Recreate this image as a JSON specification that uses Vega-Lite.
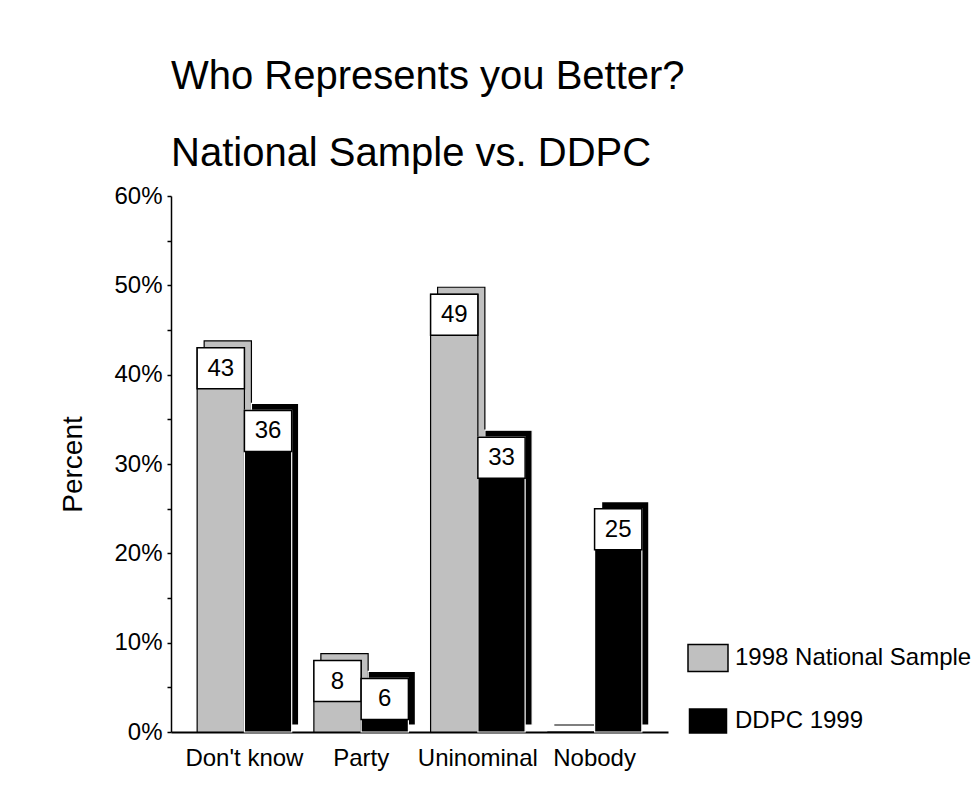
{
  "$schema": "https://vega.github.io/schema/vega-lite/v6.json",
  "width": 497,
  "height": 536,
  "autosize": {"type": "none"},
  "padding": {"left": 171, "top": 196, "right": 304, "bottom": 60},
  "background": "white",
  "config": {"font": "Liberation Sans", "view": {"stroke": null}},
  "title": {
    "text": ["Who Represents you Better?", "National Sample vs. DDPC"],
    "fontSize": 40,
    "fontWeight": "normal",
    "color": "black",
    "anchor": "start",
    "frame": "group",
    "lineHeight": 77,
    "offset": 10
  },
  "data": {
    "values": [
      {"category": "Don't know", "series": "1998 National Sample", "value": 43},
      {"category": "Don't know", "series": "DDPC 1999", "value": 36},
      {"category": "Party", "series": "1998 National Sample", "value": 8},
      {"category": "Party", "series": "DDPC 1999", "value": 6},
      {"category": "Uninominal", "series": "1998 National Sample", "value": 49},
      {"category": "Uninominal", "series": "DDPC 1999", "value": 33},
      {"category": "Nobody", "series": "1998 National Sample", "value": 0},
      {"category": "Nobody", "series": "DDPC 1999", "value": 25}
    ]
  },
  "encoding": {
    "xOffset": {
      "field": "series",
      "type": "nominal",
      "sort": ["1998 National Sample", "DDPC 1999"],
      "scale": {"paddingInner": 0, "paddingOuter": 0}
    },
    "y": {
      "field": "value",
      "type": "quantitative",
      "scale": {"domain": [0, 60], "nice": false},
      "axis": {
        "title": "Percent",
        "titleFontSize": 28,
        "titleFontWeight": "normal",
        "titleColor": "black",
        "titlePadding": 26,
        "values": [0, 5, 10, 15, 20, 25, 30, 35, 40, 45, 50, 55, 60],
        "labelExpr": "datum.value % 10 === 0 ? datum.value + '%' : ''",
        "labelFontSize": 24,
        "labelColor": "black",
        "labelPadding": 5,
        "labelOverlap": false,
        "labelBound": false,
        "tickSize": 4,
        "tickColor": "black",
        "tickWidth": 1.5,
        "domainColor": "black",
        "domainWidth": 1.5,
        "grid": false
      }
    }
  },
  "layer": [
    {
      "mark": {"type": "bar", "yOffset": -7, "y2Offset": -7, "strokeWidth": 1.2},
      "encoding": {
        "x": {
          "field": "category",
          "type": "nominal",
          "sort": ["Don't know", "Party", "Uninominal", "Nobody"],
          "scale": {"paddingInner": 0.19, "paddingOuter": 0.224, "align": 0.634},
          "axis": null
        },
        "color": {
          "field": "series",
          "type": "nominal",
          "scale": {"domain": ["1998 National Sample", "DDPC 1999"], "range": ["#c0c0c0", "#000000"]},
          "legend": {
            "title": null,
            "orient": "none",
            "legendX": 516,
            "legendY": 441,
            "symbolType": "M-1,-0.675L1,-0.675L1,0.675L-1,0.675Z",
            "symbolSize": 1600,
            "symbolStrokeColor": "black",
            "symbolStrokeWidth": 1.5,
            "symbolOpacity": 1,
            "labelFontSize": 24,
            "labelColor": "black",
            "labelOffset": 6,
            "rowPadding": 25,
            "padding": 0,
            "labelLimit": 400
          }
        },
        "stroke": {
          "field": "series",
          "type": "nominal",
          "scale": {"domain": ["1998 National Sample", "DDPC 1999"], "range": ["#000000", "#ffffff"]},
          "legend": null
        }
      }
    },
    {
      "encoding": {
        "x": {
          "field": "category",
          "type": "nominal",
          "sort": ["Don't know", "Party", "Uninominal", "Nobody"],
          "scale": {"paddingInner": 0.19, "paddingOuter": 0.224},
          "axis": {
            "title": null,
            "labelFontSize": 24,
            "labelColor": "black",
            "labelAngle": 0,
            "ticks": false,
            "labelPadding": 14,
            "domainColor": "black",
            "domainWidth": 2
          }
        }
      },
      "layer": [
        {
          "mark": {"type": "bar", "strokeWidth": 1.2},
          "encoding": {
            "color": {
              "field": "series",
              "type": "nominal",
              "scale": {"domain": ["1998 National Sample", "DDPC 1999"], "range": ["#c0c0c0", "#000000"]},
              "legend": {
                "title": null,
                "orient": "none",
                "legendX": 516,
                "legendY": 441,
                "symbolType": "M-1,-0.675L1,-0.675L1,0.675L-1,0.675Z",
                "symbolSize": 1600,
                "symbolStrokeColor": "black",
                "symbolStrokeWidth": 1.5,
                "symbolOpacity": 1,
                "labelFontSize": 24,
                "labelColor": "black",
                "labelOffset": 6,
                "rowPadding": 25,
                "padding": 0,
                "labelLimit": 400
              }
            },
            "stroke": {
              "field": "series",
              "type": "nominal",
              "scale": {"domain": ["1998 National Sample", "DDPC 1999"], "range": ["#000000", "#ffffff"]},
              "legend": null
            }
          }
        },
        {
          "transform": [{"filter": "datum.value > 0"}],
          "mark": {"type": "bar", "fill": "white", "stroke": "black", "strokeWidth": 1.5, "y2Offset": 41},
          "encoding": {
            "y2": {"field": "value"}
          }
        },
        {
          "transform": [{"filter": "datum.value > 0"}],
          "mark": {"type": "text", "fontSize": 24, "color": "black", "baseline": "middle", "align": "center", "dy": 21},
          "encoding": {
            "text": {"field": "value", "type": "quantitative"}
          }
        }
      ]
    }
  ],
  "resolve": {"scale": {"x": "independent", "xOffset": "independent"}}
}
